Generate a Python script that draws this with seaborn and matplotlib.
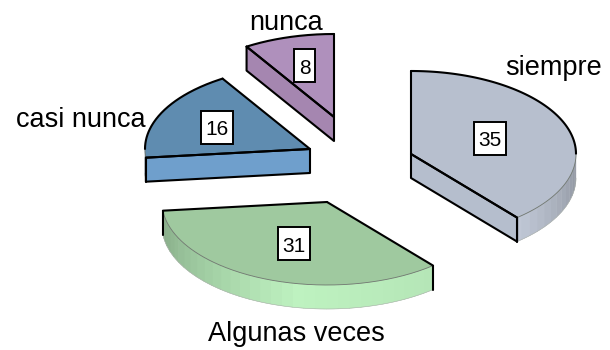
import numpy as np
import matplotlib
matplotlib.use("Agg")
import matplotlib.pyplot as plt
from matplotlib.patches import Polygon, Rectangle
import seaborn as sns

# data
categories = ["siempre", "Algunas veces", "casi nunca", "nunca"]
values = [35, 31, 16, 8]

# style / layout
top_colors = ["#B7BFCE", "#9FC99F", "#5F8CB0", "#AF90BC"]
wall_colors = ["#B5BECD", "#BDF0BE", "#6F9FCC", "#A586B0"]
rim_colors = ["#CBD3E2", "#BEF2C0", "#6F9FCC", "#A586B0"]
centers = [(411, 154), (327, 202), (310, 149), (334, 117)]
label_pos = [(554, 75), (296, 341), (81, 127), (286, 30)]
box_pos = [(490, 138.5), (294, 243.5), (217, 127), (304.5, 65.5)]
RX, RY, DEPTH = 165, 83, 24

sns.set_theme(style="white")
plt.rcParams["font.family"] = ["Liberation Sans", "DejaVu Sans"]

fig, ax = plt.subplots(figsize=(6.1, 3.5), dpi=100)
ax.set_position([0, 0, 1, 1])
ax.set_xlim(0, 610)
ax.set_ylim(350, 0)
ax.axis("off")


def ring(c, deg, dz=0.0):
    r = np.radians(deg)
    return np.column_stack([c[0] + RX * np.sin(r), c[1] - RY * np.cos(r) + dz])


def shade(color, a):
    f = np.interp(a, [90, 140, 190, 264, 270], [0.68, 0.95, 1.0, 0.70, 0.68])
    return tuple(np.array(matplotlib.colors.to_rgb(color)) * f)


BLACK = dict(color="black", lw=1.5, solid_capstyle="round", solid_joinstyle="round")
THIN = dict(color="#6E756E", lw=0.6)

total = sum(values)
edges = np.concatenate([[0], np.cumsum(values) / total * 360])

for i, v in enumerate(values):
    a0, a1 = edges[i], edges[i + 1]
    c = centers[i]
    arc_angles = np.linspace(a0, a1, 160)
    top = ring(c, arc_angles)
    apex = np.array(c, dtype=float)
    down = np.array([0, DEPTH], dtype=float)

    # outer rim (only the part facing the viewer)
    lo, hi = max(a0, 90), min(a1, 270)
    if hi > lo:
        steps = np.arange(lo, hi, 4.0)
        steps = np.append(steps, hi)
        for s0, s1 in zip(steps[:-1], steps[1:]):
            seg = np.linspace(s0, s1 + 0.3, 5)
            poly = np.vstack([ring(c, seg), ring(c, seg[::-1], DEPTH)])
            col = shade(rim_colors[i], (s0 + s1) / 2)
            ax.add_patch(Polygon(poly, closed=True, fc=col, ec=col, lw=0.2, zorder=2))
        seg = np.linspace(lo, hi, 80)
        bottom = ring(c, seg, DEPTH)
        ax.plot(bottom[:, 0], bottom[:, 1], color="#A8AEA8", lw=0.4, zorder=3)

    # top face
    ax.add_patch(Polygon(np.vstack([apex, top]), closed=True,
                         fc=top_colors[i], ec="none", zorder=4))

    # arc outline: black at the back, thin at the front
    back = (arc_angles <= 90) | (arc_angles >= 270)
    front = ~back
    if front.any():
        f = top[front]
        ax.plot(f[:, 0], f[:, 1], zorder=5, **THIN)
    for mask in (arc_angles <= 90, arc_angles >= 270):
        if mask.any():
            b = top[mask]
            ax.plot(b[:, 0], b[:, 1], zorder=6, **BLACK)

    # straight edges of the top face
    for a in (a0, a1):
        p = ring(c, [a])[0]
        ax.plot([apex[0], p[0]], [apex[1], p[1]], zorder=6, **BLACK)
        if 90 < a < 270:
            ax.plot([p[0], p[0]], [p[1], p[1] + DEPTH], zorder=6, **BLACK)

    # cut faces that look towards the viewer
    for a, sign in ((a0, -1), (a1, 1)):
        if sign * np.sin(np.radians(a)) > 1e-6:
            p = ring(c, [a])[0]
            wall = np.array([apex, p, p + down, apex + down])
            ax.add_patch(Polygon(wall, closed=True, fc=wall_colors[i], ec="black",
                                 lw=1.5, joinstyle="round", zorder=5))

    # labels
    ax.text(*label_pos[i], categories[i], ha="center", va="baseline",
            fontsize=19.5, color="black", zorder=8)
    label = str(v)
    w, h = 9 + 11.5 * len(label), 33
    bx, by = box_pos[i]
    ax.add_patch(Rectangle((bx - w / 2, by - h / 2), w, h, fc="white", ec="black",
                           lw=1.4, zorder=8))
    ax.text(bx, by + 0.5, label, ha="center", va="center_baseline", fontsize=15,
            color="black", zorder=9)

fig.savefig("out.png", dpi=100, facecolor="white")
